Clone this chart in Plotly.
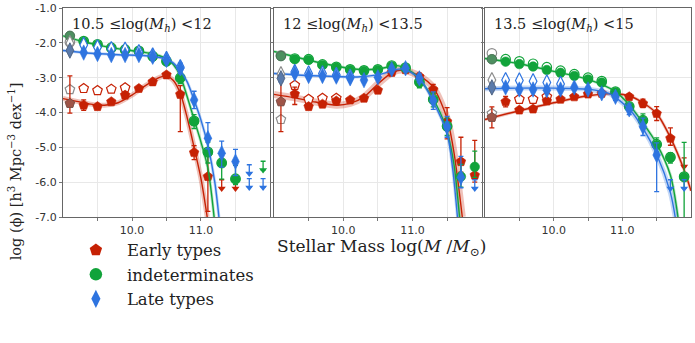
"""
Stellar mass functions split by morphology in three halo-mass bins.
"""

import plotly.graph_objects as go
from plotly.subplots import make_subplots

# stellar mass bin centres (log M / Msun)
MASS = [9.1, 9.3, 9.5, 9.7, 9.9, 10.1, 10.3, 10.5, 10.7, 10.9, 11.1, 11.3, 11.5, 11.7, 11.9]

PANEL_LABELS = ['10.5 ≤log(<i>M</i><sub><i>h</i></sub>) <12',
                '12 ≤log(<i>M</i><sub><i>h</i></sub>) <13.5',
                '13.5 ≤log(<i>M</i><sub><i>h</i></sub>) <15']
Y_TICKS = [-1, -2, -3, -4, -5, -6, -7]
Y_TICK_TEXT = ['-1.0', '-2.0', '-3.0', '-4.0', '-5.0', '-6.0', '-7.0']
X_TICKS = [10.0, 11.0]
X_TICK_TEXT = ['10.0', '11.0']
X_MINOR = [9.5, 10.5, 11.5]

# ---- panel 1 : 10.5 <= log Mh < 12 ----
P1_EARLY = [-3.74, -3.79, -3.83, -3.69, -3.50, -3.31, -3.12, -2.92, -3.48, -5.15, -5.84, None, None, None, None]
P1_EARLY_UP = [0.79, 0.15, 0.06, 0.06, 0.06, 0.06, 0.06, 0.06, 0.25, 0.20, 0.60, 0, 0, 0, 0]
P1_EARLY_DN = [0.28, 0.15, 0.06, 0.06, 0.06, 0.06, 0.06, 0.06, 1.07, 0.20, 1.00, 0, 0, 0, 0]
P1_EARLY_OPEN = [-3.34, -3.31, -3.37, -3.33, -3.29, None, None, None, None, None, None, None, None, None, None]
P1_EARLY_LIM_X = [11.3, 11.5]
P1_EARLY_LIM_Y = [-6.18, -6.18]
P1_EARLY_FIT_X = [9.0, 9.2, 9.4, 9.6, 9.8, 10.0, 10.2, 10.4, 10.5, 10.6, 10.7, 10.8, 10.9, 11.0, 11.09]
P1_EARLY_FIT_Y = [-3.60, -3.68, -3.76, -3.79, -3.72, -3.50, -3.22, -2.99, -2.95, -3.08, -3.45, -4.15, -5.00, -5.90, -7.00]

P1_INDET = [-1.80, -1.97, -2.06, -2.16, -2.21, -2.25, -2.40, -2.54, -3.02, -4.26, -5.15, -5.46, -5.92, None, None]
P1_INDET_UP = [0.05, 0.05, 0.05, 0.05, 0.05, 0.05, 0.05, 0.06, 0.15, 0.20, 0.30, 0.30, 0.40, 0, 0]
P1_INDET_DN = [0.05, 0.05, 0.05, 0.05, 0.05, 0.05, 0.05, 0.06, 0.15, 0.20, 0.30, 0.45, 0.15, 0, 0]
P1_INDET_OPEN = [-1.98, -1.95, -2.04, -2.14, -2.19, -2.23, -2.38, -2.52, -3.00, -4.24, -5.13, -5.44, -5.90, None, None]
P1_INDET_LIM_X = [11.9]
P1_INDET_LIM_Y = [-5.65]
P1_INDET_FIT_X = [9.0, 9.3, 9.6, 9.9, 10.2, 10.4, 10.5, 10.6, 10.7, 10.8, 10.9, 11.0, 11.1, 11.19]
P1_INDET_FIT_Y = [-1.80, -1.97, -2.10, -2.20, -2.28, -2.37, -2.46, -2.62, -2.95, -3.55, -4.20, -4.85, -5.60, -7.00]

P1_LATE = [-2.22, -2.28, -2.32, -2.35, -2.35, -2.35, -2.40, -2.49, -2.73, -3.64, -4.74, -5.17, -5.41, None, None]
P1_LATE_UP = [0.05, 0.05, 0.05, 0.05, 0.05, 0.05, 0.05, 0.06, 0.15, 0.25, 0.45, 0.35, 0.35, 0, 0]
P1_LATE_DN = [0.05, 0.05, 0.05, 0.05, 0.05, 0.05, 0.05, 0.06, 0.15, 0.25, 0.30, 0.40, 0.40, 0, 0]
P1_LATE_OPEN = [-2.01, -2.06, -2.13, -2.18, -2.20, -2.27, -2.36, -2.46, -2.70, None, None, None, None, None, None]
P1_LATE_LIM_X = [11.7, 11.7, 11.9]
P1_LATE_LIM_Y = [-5.75, -6.15, -6.15]
P1_LATE_FIT_X = [9.0, 9.4, 9.8, 10.2, 10.4, 10.5, 10.6, 10.7, 10.8, 10.9, 11.0, 11.1, 11.2, 11.26]
P1_LATE_FIT_Y = [-2.22, -2.30, -2.34, -2.37, -2.42, -2.47, -2.58, -2.80, -3.12, -3.64, -4.22, -4.95, -6.00, -7.00]

# ---- panel 2 : 12 <= log Mh < 13.5 ----
P2_EARLY = [-3.69, -3.47, -3.83, -3.76, -3.67, -3.64, -3.59, -3.36, -2.85, -2.77, -2.97, -3.34, -4.26, -5.41, -5.80]
P2_EARLY_UP = [0.86, 0.20, 0.06, 0.06, 0.06, 0.06, 0.06, 0.06, 0.06, 0.08, 0.10, 0.15, 0.40, 0.70, 1.00]
P2_EARLY_DN = [0.86, 0.30, 0.06, 0.06, 0.06, 0.06, 0.06, 0.06, 0.06, 0.08, 0.10, 0.15, 0.50, 0.30, 0.20]
P2_EARLY_OPEN = [-4.20, -3.22, -3.62, -3.59, -3.59, None, None, None, None, None, None, None, None, None, None]
P2_EARLY_LIM_X = []
P2_EARLY_LIM_Y = []
P2_EARLY_FIT_X = [9.0, 9.3, 9.6, 9.9, 10.1, 10.3, 10.5, 10.7, 10.85, 11.1, 11.3, 11.5, 11.6, 11.72]
P2_EARLY_FIT_Y = [-3.48, -3.58, -3.70, -3.79, -3.74, -3.55, -3.18, -2.86, -2.78, -2.95, -3.28, -4.17, -5.15, -7.00]

P2_INDET = [-2.38, -2.47, -2.49, -2.64, -2.71, -2.78, -2.81, -2.78, -2.67, -2.73, -3.14, -3.64, -4.41, -5.84, -5.56]
P2_INDET_UP = [0.05, 0.05, 0.05, 0.05, 0.05, 0.05, 0.05, 0.05, 0.06, 0.08, 0.15, 0.20, 0.25, 0.35, 0.45]
P2_INDET_DN = [0.05, 0.05, 0.05, 0.05, 0.05, 0.05, 0.05, 0.05, 0.06, 0.08, 0.15, 0.20, 0.25, 0.30, 0.30]
P2_INDET_OPEN = [-2.36, -2.45, -2.47, -2.62, -2.69, -2.76, -2.79, -2.76, -2.65, -2.71, -3.12, -3.62, -4.39, None, None]
P2_INDET_LIM_X = []
P2_INDET_LIM_Y = []
P2_INDET_FIT_X = [9.0, 9.4, 9.8, 10.2, 10.5, 10.8, 11.0, 11.2, 11.4, 11.5, 11.6, 11.68]
P2_INDET_FIT_Y = [-2.25, -2.45, -2.63, -2.76, -2.75, -2.66, -2.85, -3.30, -4.00, -4.55, -5.50, -7.00]

P2_LATE = [-3.02, -2.88, -2.95, -2.95, -2.97, -3.02, -3.07, -2.99, -2.76, -2.73, -3.02, -3.66, -4.41, -5.86, None]
P2_LATE_UP = [0.10, 0.06, 0.06, 0.06, 0.06, 0.06, 0.06, 0.06, 0.08, 0.08, 0.12, 0.25, 0.30, 0.60, 0]
P2_LATE_DN = [0.10, 0.06, 0.06, 0.06, 0.06, 0.06, 0.06, 0.06, 0.08, 0.08, 0.12, 0.25, 0.30, 0.30, 0]
P2_LATE_OPEN = [-2.90, -2.84, -2.88, -2.88, -2.92, -2.97, None, None, None, None, None, None, None, None, None]
P2_LATE_LIM_X = [11.9]
P2_LATE_LIM_Y = [-6.18]
P2_LATE_FIT_X = [9.0, 9.4, 9.8, 10.2, 10.5, 10.85, 11.1, 11.3, 11.5, 11.58, 11.65]
P2_LATE_FIT_Y = [-2.88, -2.93, -2.96, -2.98, -2.92, -2.75, -3.02, -3.69, -4.60, -5.60, -7.00]

# ---- panel 3 : 13.5 <= log Mh < 15 ----
P3_EARLY = [-4.14, -3.69, -3.93, -3.90, -3.67, -3.62, -3.55, -3.47, -3.45, -3.46, -3.55, -3.74, -4.03, -4.74, None]
P3_EARLY_UP = [0.30, 0.15, 0.06, 0.06, 0.06, 0.06, 0.06, 0.06, 0.06, 0.06, 0.08, 0.12, 0.20, 0.30, 0]
P3_EARLY_DN = [0.30, 0.15, 0.06, 0.06, 0.06, 0.06, 0.06, 0.06, 0.06, 0.06, 0.08, 0.12, 0.20, 0.20, 0]
P3_EARLY_OPEN = [-4.03, None, -3.62, -3.62, -3.55, None, None, None, None, None, None, None, None, None, None]
P3_EARLY_LIM_X = [11.9]
P3_EARLY_LIM_Y = [-5.55]
P3_EARLY_FIT_X = [9.0, 9.5, 10.0, 10.5, 10.9, 11.1, 11.3, 11.5, 11.7, 11.9, 12.0]
P3_EARLY_FIT_Y = [-4.20, -3.95, -3.72, -3.52, -3.46, -3.52, -3.72, -4.03, -4.72, -5.65, -6.25]

P3_INDET = [-2.47, -2.54, -2.61, -2.68, -2.78, -2.86, -2.95, -3.05, -3.14, -3.42, -3.84, -4.24, -4.93, -5.30, -5.86]
P3_INDET_UP = [0.05, 0.05, 0.05, 0.05, 0.05, 0.05, 0.05, 0.05, 0.06, 0.08, 0.10, 0.20, 0.20, 0.15, 1.00]
P3_INDET_DN = [0.05, 0.05, 0.05, 0.05, 0.05, 0.05, 0.05, 0.05, 0.06, 0.08, 0.10, 0.20, 0.20, 0.15, 1.20]
P3_INDET_OPEN = [-2.30, -2.47, -2.53, -2.60, -2.70, -2.80, -2.90, -3.00, -3.10, -3.40, -3.82, -4.22, -4.91, -5.28, -5.84]
P3_INDET_LIM_X = []
P3_INDET_LIM_Y = []
P3_INDET_FIT_X = [9.0, 9.5, 10.0, 10.5, 10.9, 11.1, 11.3, 11.5, 11.7, 11.81]
P3_INDET_FIT_Y = [-2.45, -2.60, -2.82, -3.05, -3.40, -3.78, -4.30, -4.90, -5.80, -7.00]

P3_LATE = [-3.28, -3.28, -3.34, -3.34, -3.36, -3.34, -3.28, -3.34, -3.45, -3.55, -3.91, -4.41, -5.22, None, None]
P3_LATE_UP = [0.10, 0.06, 0.06, 0.06, 0.06, 0.06, 0.06, 0.06, 0.08, 0.10, 0.15, 0.25, 0.35, 0, 0]
P3_LATE_DN = [0.10, 0.06, 0.06, 0.06, 0.06, 0.06, 0.06, 0.06, 0.08, 0.10, 0.15, 0.25, 1.05, 0, 0]
P3_LATE_OPEN = [-3.07, -3.07, -3.08, -3.10, -3.14, -3.18, None, None, None, None, None, None, None, None, None]
P3_LATE_LIM_X = [11.7, 11.9]
P3_LATE_LIM_Y = [-6.18, -6.18]
P3_LATE_FIT_X = [9.0, 9.5, 10.0, 10.5, 10.8, 11.1, 11.3, 11.5, 11.7, 11.77]
P3_LATE_FIT_Y = [-3.32, -3.30, -3.30, -3.33, -3.45, -3.90, -4.45, -5.20, -6.30, -7.00]

RED = '#c62104'
GREEN = '#11a33a'
BLUE = '#2e74e0'
GREY = '#8c8c8c'

SERIF = 'DejaVu Serif'


def rgba(hex_color, alpha):
    h = hex_color.lstrip('#')
    r, g, b = int(h[0:2], 16), int(h[2:4], 16), int(h[4:6], 16)
    return f'rgba({r},{g},{b},{alpha})'


def add_series(fig, col, y, up, dn, open_y, lim_x, lim_y, fit_x, fit_y,
               color, symbol, size, band):
    """Fit band + fit line, open points, filled points with errors, upper limits."""
    fig.add_trace(go.Scatter(x=fit_x, y=fit_y, mode='lines',
                             line=dict(color=rgba(color, 0.28), width=band, shape='spline', smoothing=0.8),
                             hoverinfo='skip', showlegend=False), row=1, col=col)
    fig.add_trace(go.Scatter(x=fit_x, y=fit_y, mode='lines',
                             line=dict(color=color, width=1.4, shape='spline', smoothing=0.8),
                             hoverinfo='skip', showlegend=False), row=1, col=col)

    # open (hollow) points, first bin drawn in grey
    ox = [m for m, v in zip(MASS, open_y) if v is not None]
    oy = [v for v in open_y if v is not None]
    edge = [GREY if m == MASS[0] else color for m in ox]
    fig.add_trace(go.Scatter(x=ox, y=oy, mode='markers',
                             marker=dict(symbol=symbol, size=size, color='white',
                                         line=dict(color=edge, width=1.2)),
                             showlegend=False), row=1, col=col)

    # filled points with asymmetric errors
    fx = [m for m, v in zip(MASS, y) if v is not None]
    fy = [v for v in y if v is not None]
    fu = [e for e, v in zip(up, y) if v is not None]
    fd = [e for e, v in zip(dn, y) if v is not None]
    fig.add_trace(go.Scatter(x=fx, y=fy, mode='markers',
                             marker=dict(symbol=symbol, size=size, color=color,
                                         line=dict(color=color, width=0.6)),
                             error_y=dict(type='data', array=fu, arrayminus=fd,
                                          color=color, thickness=1.3, width=2.5),
                             showlegend=False), row=1, col=col)

    # incompleteness bin overlay
    fig.add_trace(go.Scatter(x=fx[:1], y=fy[:1], mode='markers',
                             marker=dict(symbol=symbol, size=size, color=rgba('#808080', 0.55),
                                         line=dict(color='#555555', width=0.6)),
                             showlegend=False), row=1, col=col)

    if lim_x:
        fig.add_trace(go.Scatter(x=lim_x, y=lim_y, mode='markers',
                                 marker=dict(symbol='triangle-down', size=7, color=color,
                                             line=dict(width=0)),
                                 error_y=dict(type='data', array=[0.25] * len(lim_x),
                                              arrayminus=[0] * len(lim_x),
                                              color=color, thickness=1.3, width=2.5),
                                 showlegend=False), row=1, col=col)


fig = make_subplots(rows=1, cols=3, shared_yaxes=True)

panels = [
    (1, [(P1_EARLY, P1_EARLY_UP, P1_EARLY_DN, P1_EARLY_OPEN, P1_EARLY_LIM_X, P1_EARLY_LIM_Y, P1_EARLY_FIT_X, P1_EARLY_FIT_Y, RED, 'pentagon', 10, 5),
         (P1_INDET, P1_INDET_UP, P1_INDET_DN, P1_INDET_OPEN, P1_INDET_LIM_X, P1_INDET_LIM_Y, P1_INDET_FIT_X, P1_INDET_FIT_Y, GREEN, 'circle', 9.5, 3),
         (P1_LATE, P1_LATE_UP, P1_LATE_DN, P1_LATE_OPEN, P1_LATE_LIM_X, P1_LATE_LIM_Y, P1_LATE_FIT_X, P1_LATE_FIT_Y, BLUE, 'diamond-tall', 11, 3)]),
    (2, [(P2_EARLY, P2_EARLY_UP, P2_EARLY_DN, P2_EARLY_OPEN, P2_EARLY_LIM_X, P2_EARLY_LIM_Y, P2_EARLY_FIT_X, P2_EARLY_FIT_Y, RED, 'pentagon', 10, 7),
         (P2_INDET, P2_INDET_UP, P2_INDET_DN, P2_INDET_OPEN, P2_INDET_LIM_X, P2_INDET_LIM_Y, P2_INDET_FIT_X, P2_INDET_FIT_Y, GREEN, 'circle', 9.5, 3),
         (P2_LATE, P2_LATE_UP, P2_LATE_DN, P2_LATE_OPEN, P2_LATE_LIM_X, P2_LATE_LIM_Y, P2_LATE_FIT_X, P2_LATE_FIT_Y, BLUE, 'diamond-tall', 11, 3)]),
    (3, [(P3_EARLY, P3_EARLY_UP, P3_EARLY_DN, P3_EARLY_OPEN, P3_EARLY_LIM_X, P3_EARLY_LIM_Y, P3_EARLY_FIT_X, P3_EARLY_FIT_Y, RED, 'pentagon', 10, 3),
         (P3_INDET, P3_INDET_UP, P3_INDET_DN, P3_INDET_OPEN, P3_INDET_LIM_X, P3_INDET_LIM_Y, P3_INDET_FIT_X, P3_INDET_FIT_Y, GREEN, 'circle', 9.5, 3),
         (P3_LATE, P3_LATE_UP, P3_LATE_DN, P3_LATE_OPEN, P3_LATE_LIM_X, P3_LATE_LIM_Y, P3_LATE_FIT_X, P3_LATE_FIT_Y, BLUE, 'diamond-tall', 11, 5)]),
]

for col, series in panels:
    for s in series:
        add_series(fig, col, *s)

# legend entries, one group each so the row gap can be tuned
for name, color, symbol, size in [('Early types', RED, 'pentagon', 13),
                                  ('indeterminates', GREEN, 'circle', 12.5),
                                  ('Late types', BLUE, 'diamond-tall', 13)]:
    fig.add_trace(go.Scatter(x=[None], y=[None], mode='markers', name=name, legendgroup=name,
                             marker=dict(symbol=symbol, size=size, color=color)), row=1, col=1)

domains = [[0.0, 0.3296], [0.336, 0.6667], [0.672, 1.0]]
for i, dom in enumerate(domains, start=1):
    fig.update_xaxes(domain=dom, range=[9.0, 12.0], tickvals=X_TICKS, ticktext=X_TICK_TEXT,
                     ticks='outside', ticklen=3, tickcolor='#777', showgrid=True, gridcolor='#e8e8e8',
                     minor=dict(tickvals=X_MINOR, ticks='outside', ticklen=3, tickcolor='#777',
                                showgrid=True, gridcolor='#e8e8e8'),
                     showline=True, mirror=True, linecolor='#666', linewidth=1, zeroline=False,
                     tickfont=dict(family='DejaVu Sans', size=11, color='#333'), row=1, col=i)
    fig.update_yaxes(range=[-7, -1], tickvals=Y_TICKS, ticktext=Y_TICK_TEXT,
                     ticks='outside', ticklen=3, tickcolor='#777', showgrid=True, gridcolor='#e8e8e8',
                     showline=True, mirror=True, linecolor='#666', linewidth=1, zeroline=False,
                     showticklabels=(i == 1), ticklabeloverflow='allow',
                     tickfont=dict(family='DejaVu Sans', size=11, color='#333'), row=1, col=i)
    fig.add_annotation(text=PANEL_LABELS[i - 1], xref=f'x{"" if i == 1 else i} domain',
                       yref=f'y{"" if i == 1 else i} domain', x=0.035, y=0.92,
                       xanchor='left', yanchor='middle', showarrow=False,
                       font=dict(family=SERIF, size=14.5, color='#222'))

fig.add_annotation(text='Stellar Mass log(<i>M</i> /<i>M</i><sub>⊙</sub>)', xref='paper', yref='paper',
                   x=(275 - 63) / 628, y=-0.148, xanchor='left', yanchor='middle', showarrow=False,
                   font=dict(family=SERIF, size=17, color='#222'))
fig.add_annotation(text='log (ϕ) [h<sup>3</sup> Mpc<sup>−3</sup> dex<sup>−1</sup>]', xref='paper', yref='paper',
                   x=-0.076, y=(217 - 171) / 209, xanchor='center', yanchor='middle', textangle=-90,
                   showarrow=False, font=dict(family=SERIF, size=14.5, color='#222'))

fig.update_layout(
    width=695, height=343,
    margin=dict(l=63, r=4, t=8, b=126, autoexpand=False),
    plot_bgcolor='white', paper_bgcolor='white',
    showlegend=True,
    legend=dict(x=0.003, y=-0.075, xanchor='left', yanchor='top', itemwidth=52, tracegroupgap=0,
                font=dict(family=SERIF, size=16.5, color='#222'), bgcolor='rgba(0,0,0,0)',
                itemclick=False),
)

# drop the browser's default body margin so the figure sits at the page origin
fig.write_html('out.html', config={'displayModeBar': False},
               post_script="document.body.style.margin='0';")
